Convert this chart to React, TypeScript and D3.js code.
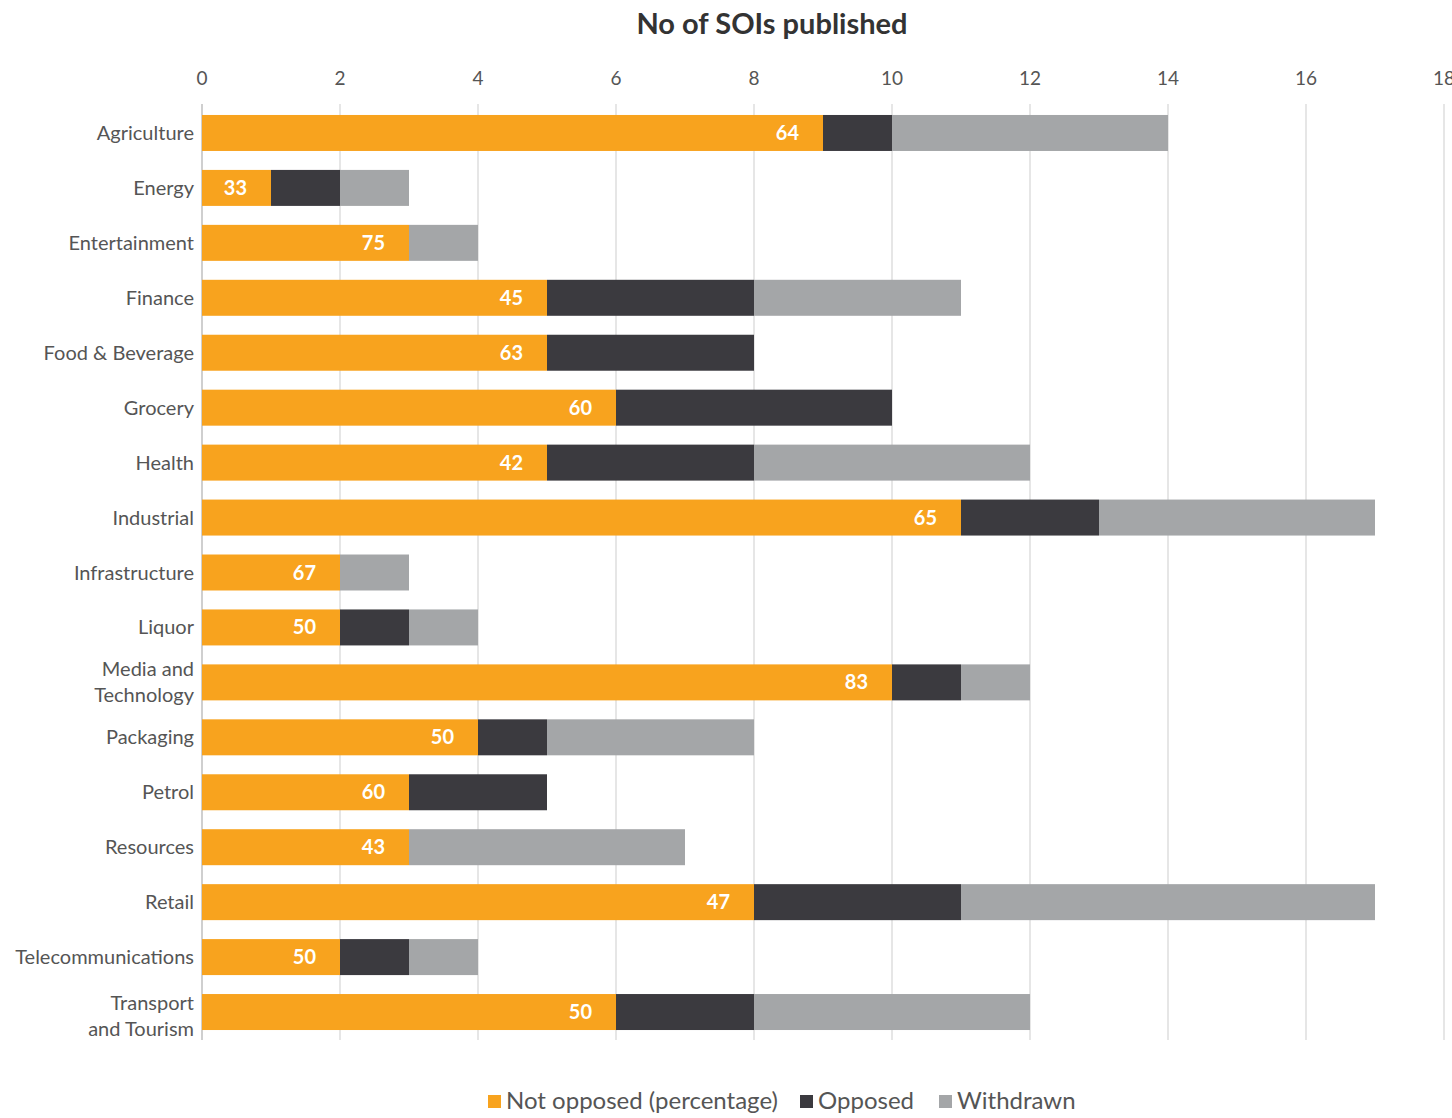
import React, { useRef, useEffect } from 'react';
import * as d3 from 'd3';

const categories = [
  'Agriculture', 'Energy', 'Entertainment', 'Finance', 'Food & Beverage', 'Grocery',
  'Health', 'Industrial', 'Infrastructure', 'Liquor', 'Media and\nTechnology',
  'Packaging', 'Petrol', 'Resources', 'Retail', 'Telecommunications', 'Transport\nand Tourism',
];
const notOpposed = [9, 1, 3, 5, 5, 6, 5, 11, 2, 2, 10, 4, 3, 3, 8, 2, 6];
const opposed = [1, 1, 0, 3, 3, 4, 3, 2, 0, 1, 1, 1, 2, 0, 3, 1, 2];
const withdrawn = [4, 1, 1, 3, 0, 0, 4, 4, 1, 1, 1, 3, 0, 4, 6, 1, 4];
const pctLabels = [64, 33, 75, 45, 63, 60, 42, 65, 67, 50, 83, 50, 60, 43, 47, 50, 50];
const xTicks = [0, 2, 4, 6, 8, 10, 12, 14, 16, 18];

const seriesNames = ['Not opposed (percentage)', 'Opposed', 'Withdrawn'];
const COLORS = ['#F8A31E', '#3B3A3F', '#A4A6A8'];
const FONT = 'Lato, "Open Sans", sans-serif';
const TEXT = '#555555';

const W = 1452;
const H = 1118;

const App: React.FC = () => {
  const svgRef = useRef<SVGSVGElement | null>(null);

  useEffect(() => {
    document.body.style.margin = '0';
    if (!svgRef.current) return;
    const svg = d3.select(svgRef.current);
    svg.selectAll('*').remove();
    svg.attr('width', W).attr('height', H).style('display', 'block').style('font-family', FONT);

    const x = d3.scaleLinear().domain([0, 18]).range([202, 1444]);
    const y = d3.scaleBand<string>()
      .domain(categories)
      .range([105.5, 1039.5])
      .paddingInner(0.345)
      .paddingOuter(0.1725);

    // Title
    svg.append('text')
      .attr('x', 772)
      .attr('y', 34)
      .attr('text-anchor', 'middle')
      .attr('font-size', 29)
      .attr('font-weight', 700)
      .attr('fill', '#333333')
      .text('No of SOIs published');

    // Grid lines
    svg.append('g')
      .selectAll('line')
      .data(xTicks)
      .enter()
      .append('line')
      .attr('x1', d => x(d))
      .attr('x2', d => x(d))
      .attr('y1', 104)
      .attr('y2', 1040)
      .attr('stroke', d => (d === 0 ? '#cfcfcf' : '#dedede'))
      .attr('stroke-width', d => (d === 0 ? 2 : 1.5));

    // Top tick labels
    svg.append('g')
      .selectAll('text')
      .data(xTicks)
      .enter()
      .append('text')
      .attr('x', d => x(d))
      .attr('y', 85)
      .attr('text-anchor', 'middle')
      .attr('font-size', 19)
      .attr('fill', TEXT)
      .text(d => String(d));

    // Stacked bars
    const rows = categories.map((c, i) => ({
      cat: c,
      vals: [notOpposed[i], opposed[i], withdrawn[i]],
      pct: pctLabels[i],
    }));

    rows.forEach((r, i) => {
      let acc = 0;
      r.vals.forEach((v, k) => {
        if (v > 0) {
          svg.append('rect')
            .attr('x', x(acc))
            .attr('y', y(r.cat)!)
            .attr('width', x(acc + v) - x(acc))
            .attr('height', y.bandwidth())
            .attr('fill', COLORS[k]);
        }
        acc += v;
      });

      // value label inside end of orange segment
      svg.append('text')
        .attr('x', x(r.vals[0]) - 24)
        .attr('y', y(r.cat)! + y.bandwidth() / 2 + 7)
        .attr('text-anchor', 'end')
        .attr('font-size', 20)
        .attr('font-weight', 700)
        .attr('fill', '#ffffff')
        .text(String(r.pct));

      // category label
      const lines = r.cat.split('\n');
      const cy = y(r.cat)! + y.bandwidth() / 2 + (i === categories.length - 1 ? 4 : 0);
      const lh = 26;
      const t = svg.append('text')
        .attr('text-anchor', 'end')
        .attr('font-size', 20)
        .attr('fill', TEXT);
      lines.forEach((ln, li) => {
        t.append('tspan')
          .attr('x', 194)
          .attr('y', cy + 7 + (li - (lines.length - 1) / 2) * lh)
          .text(ln);
      });
    });

    // Legend
    const legendX = [488, 800, 939];
    seriesNames.forEach((name, k) => {
      svg.append('rect')
        .attr('x', legendX[k])
        .attr('y', 1095)
        .attr('width', 13)
        .attr('height', 13)
        .attr('fill', COLORS[k]);
      svg.append('text')
        .attr('x', legendX[k] + 18)
        .attr('y', 1109)
        .attr('font-size', 24)
        .attr('fill', TEXT)
        .text(name);
    });
  }, []);

  return <svg ref={svgRef} />;
};

export default App;
